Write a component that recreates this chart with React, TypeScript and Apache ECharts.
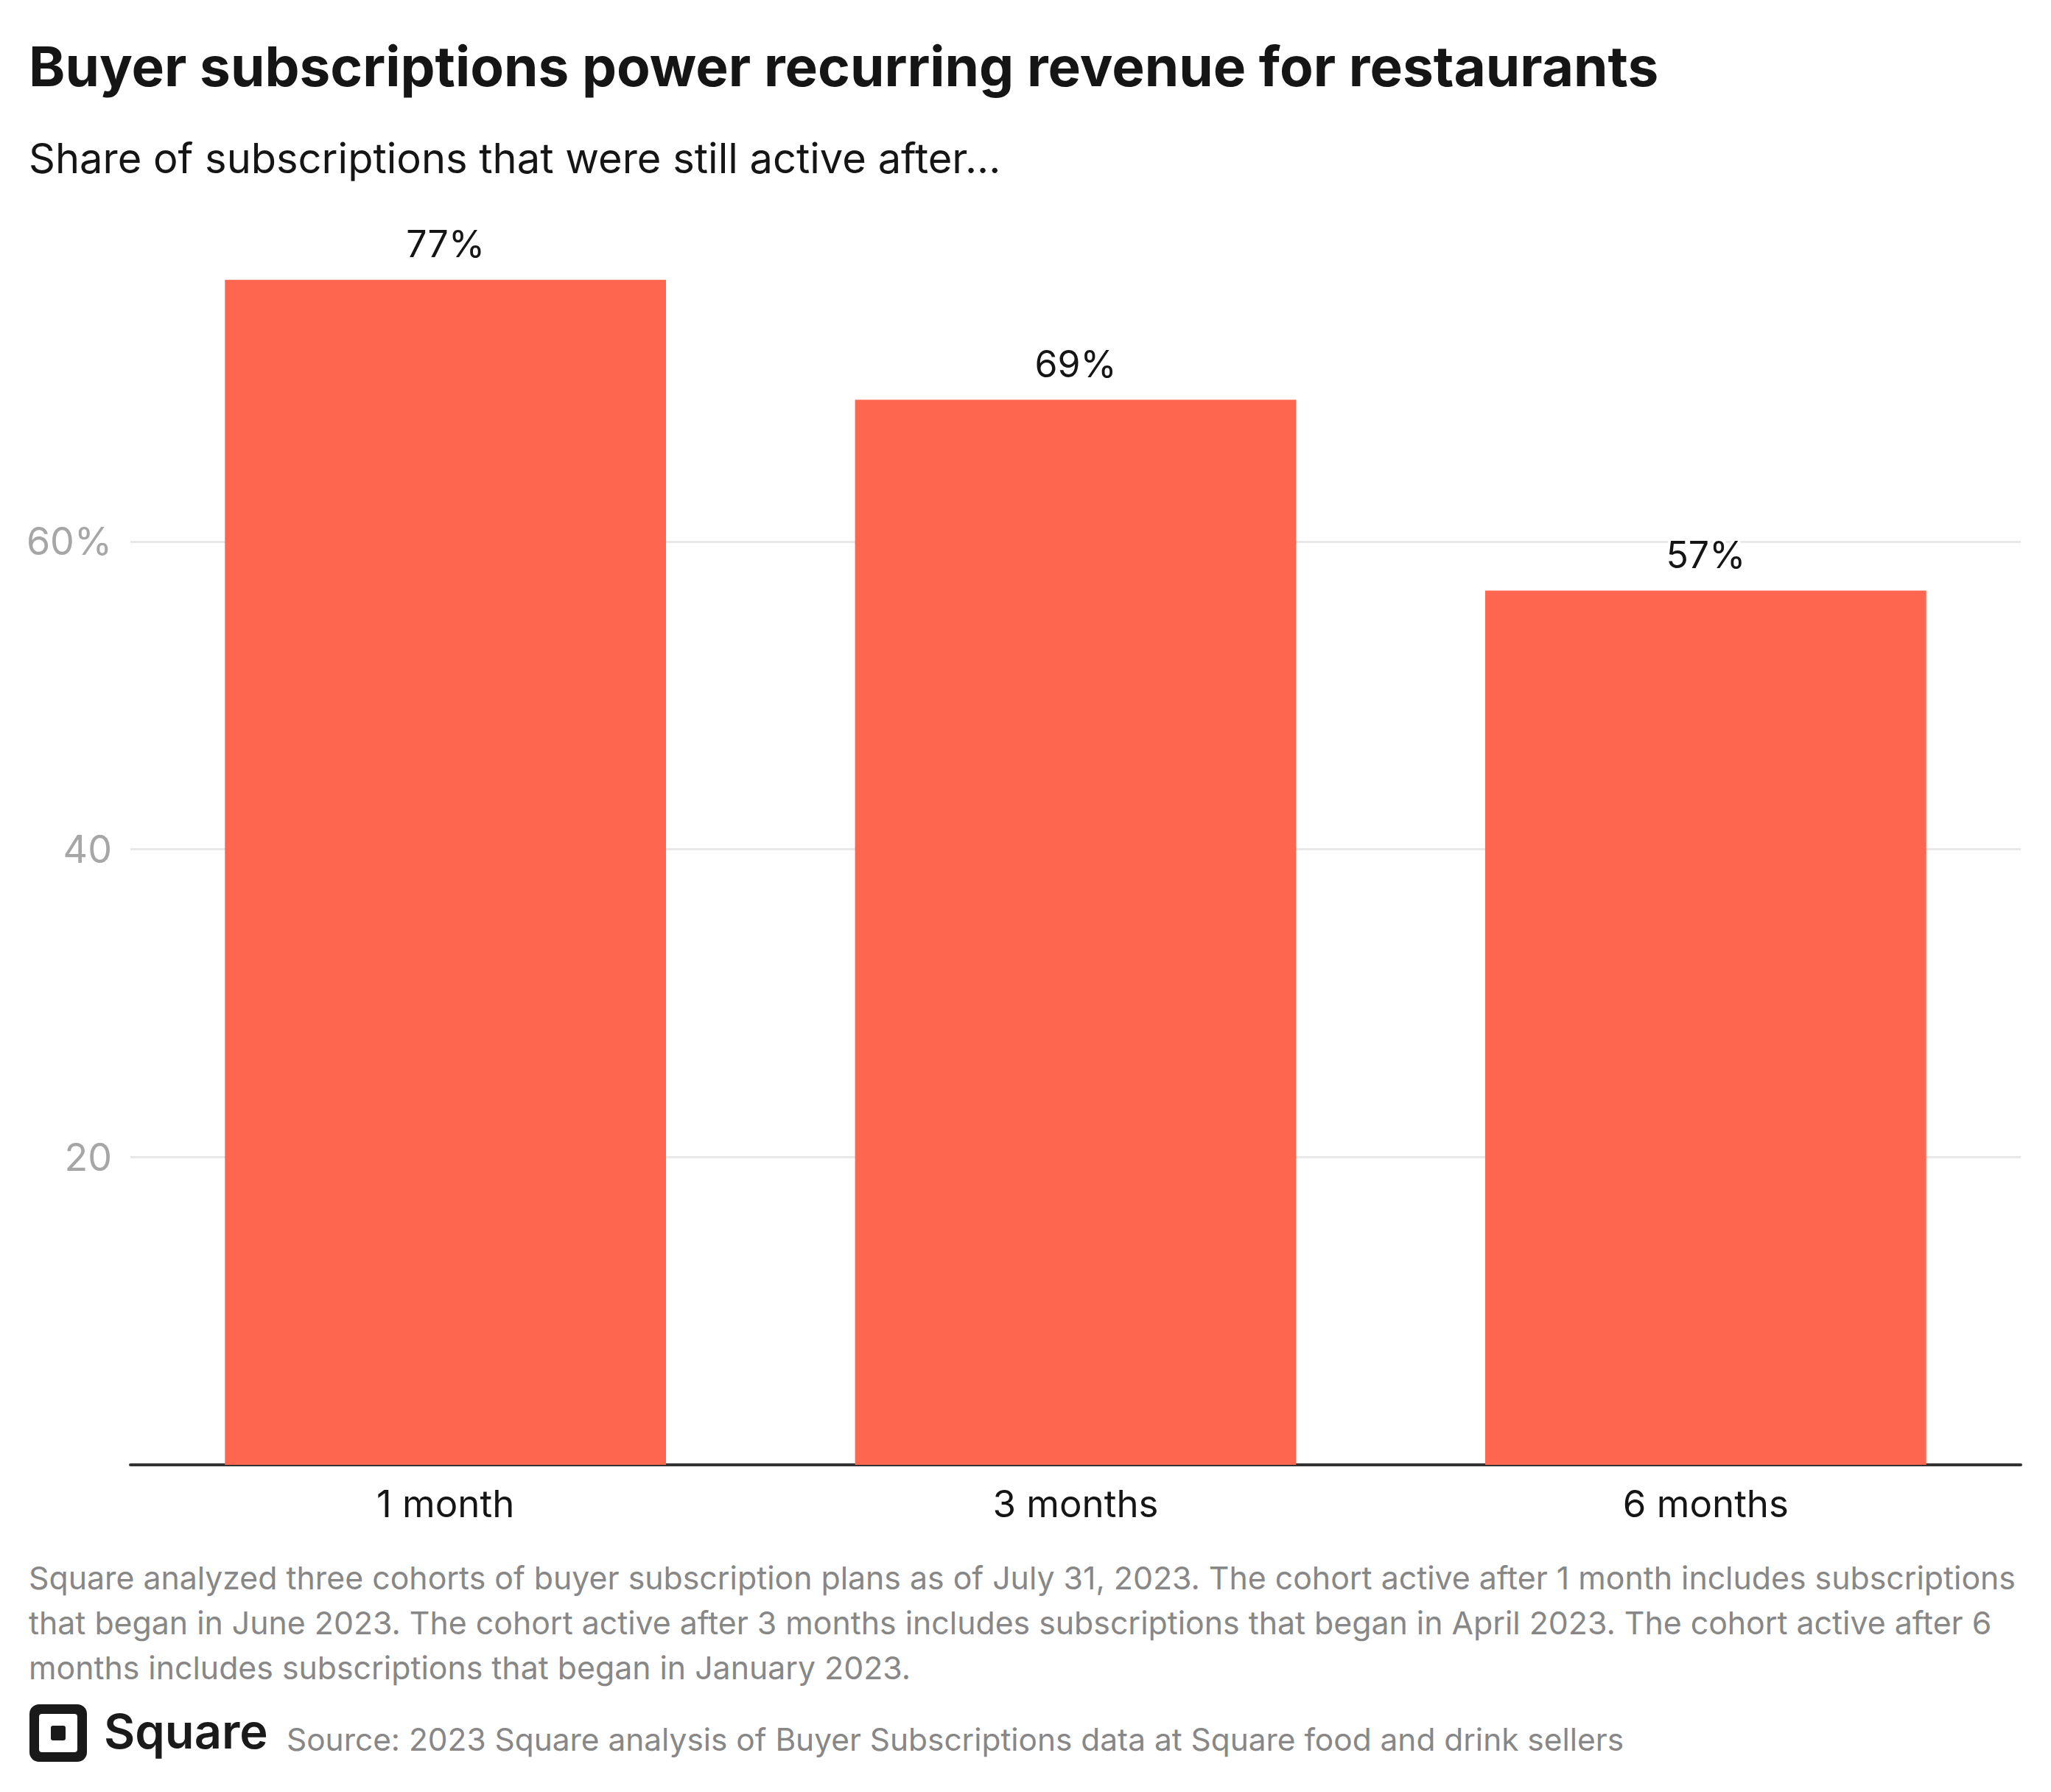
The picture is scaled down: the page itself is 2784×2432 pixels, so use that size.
import React, { useEffect, useRef } from "react";
import * as echarts from "echarts";

const categories = ["1 month", "3 months", "6 months"];
const activeShare = [77, 69.2, 56.8];
const yTicks = [0, 20, 40, 60, 80];

const titleText = "Buyer subscriptions power recurring revenue for restaurants";
const subtitleText = "Share of subscriptions that were still active after...";
const noteLines = [
  "Square analyzed three cohorts of buyer subscription plans as of July 31, 2023. The cohort active after 1 month includes subscriptions",
  "that began in June 2023. The cohort active after 3 months includes subscriptions that began in April 2023. The cohort active after 6",
  "months includes subscriptions that began in January 2023.",
];
const sourceText = "Source: 2023 Square analysis of Buyer Subscriptions data at Square food and drink sellers";
const brandText = "Square";

const FONT = "Inter, 'Noto Sans', sans-serif";

export default function App() {
  const ref = useRef<HTMLDivElement>(null);
  useEffect(() => {
    document.body.style.margin = "0";
    if (!ref.current) return;
    const chart = echarts.init(ref.current, undefined, { renderer: "svg" });
    const noteGraphics = noteLines.map((line, i) => ({
      type: "text",
      left: 39,
      top: 2120 + i * 61,
      style: { text: line, font: `400 42.8px ${FONT}`, fill: "#878787" },
    }));
    chart.setOption({
      animation: false,
      backgroundColor: "#ffffff",
      grid: { left: 177, right: 41, top: 317, bottom: 444, containLabel: false },
      xAxis: {
        type: "category",
        data: categories,
        axisLine: { show: true, lineStyle: { color: "#333333", width: 4 } },
        axisTick: { show: false },
        axisLabel: { color: "#151515", fontSize: 51, fontFamily: FONT, margin: 27 },
      },
      yAxis: {
        type: "value",
        min: yTicks[0],
        max: yTicks[yTicks.length - 1],
        interval: 20,
        axisLine: { show: false },
        axisTick: { show: false },
        axisLabel: {
          showMinLabel: false,
          showMaxLabel: false,
          color: "#a6a6a6",
          fontSize: 52,
          fontFamily: FONT,
          margin: 25,
          formatter: (v: number) => (v === 60 ? `${v}%` : `${v}`),
        },
        splitLine: {
          show: true,
          showMinLine: false,
          showMaxLine: false,
          lineStyle: { color: "#e8e8e8", width: 3 },
        },
      },
      series: [
        {
          type: "bar",
          data: activeShare,
          barWidth: "70%",
          itemStyle: { color: "#ff664f" },
          label: {
            show: true,
            position: "top",
            distance: 24,
            formatter: (p: any) => `${Math.round(p.value)}%`,
            color: "#151515",
            fontSize: 50,
            fontFamily: FONT,
            textBorderColor: "#ffffff",
            textBorderWidth: 8,
          },
        },
      ],
      graphic: [
        {
          type: "text",
          left: 39,
          top: 52,
          style: { text: titleText, font: `700 74.7px ${FONT}`, fill: "#151515" },
        },
        {
          type: "text",
          left: 39,
          top: 187,
          style: { text: subtitleText, font: `400 56px ${FONT}`, fill: "#151515" },
        },
        ...noteGraphics,
        {
          type: "rect",
          left: 40,
          top: 2313,
          shape: { width: 78, height: 78, r: 13 },
          style: { fill: "#1a1a1a" },
        },
        {
          type: "rect",
          left: 53,
          top: 2326,
          shape: { width: 52, height: 52, r: 4 },
          style: { fill: "#ffffff" },
        },
        {
          type: "rect",
          left: 69,
          top: 2342,
          shape: { width: 20, height: 20, r: 3 },
          style: { fill: "#1a1a1a" },
        },
        {
          type: "text",
          left: 141,
          top: 2317,
          style: { text: brandText, font: `600 65px ${FONT}`, fill: "#1a1a1a" },
        },
        {
          type: "text",
          left: 389,
          top: 2339,
          style: { text: sourceText, font: `400 42.4px ${FONT}`, fill: "#878787" },
        },
      ],
    });
    return () => chart.dispose();
  }, []);
  return <div ref={ref} style={{ width: 2784, height: 2432 }} />;
}
